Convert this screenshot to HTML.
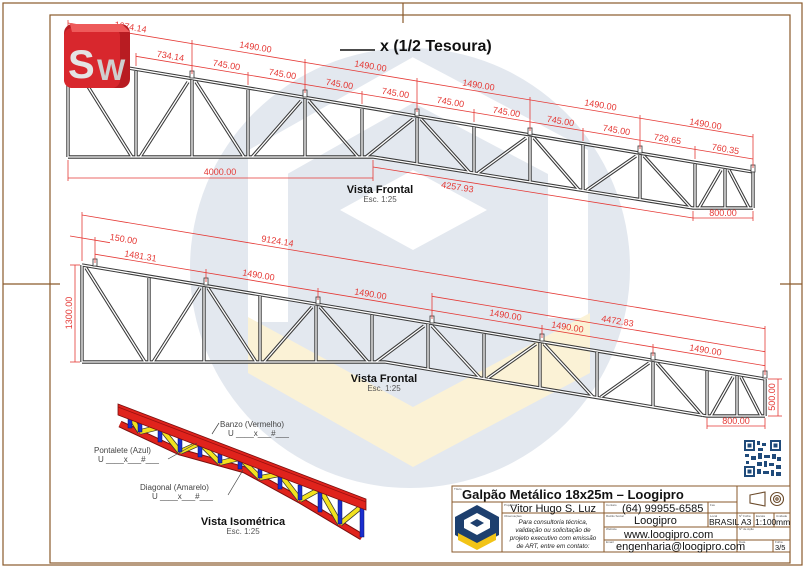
<!DOCTYPE html>
<html><head><meta charset="utf-8"><style>
html,body{margin:0;padding:0;background:#fff}
svg{display:block}
.d{font-family:"Liberation Sans",sans-serif;font-size:9px;fill:#e53935}
.r{stroke:#e53935;stroke-width:.8;fill:none}
.t{font-family:"Liberation Sans",sans-serif}
</style></head><body>
<svg width="806" height="568" viewBox="0 0 806 568" xmlns="http://www.w3.org/2000/svg">
<rect width="806" height="568" fill="#fff"/>
<!-- watermark -->
<circle cx="410" cy="268" r="220" fill="#e3e8ef"/>
<polyline points="268,322 268,162 413,80 568,162 568,318" fill="none" stroke="#fff" stroke-width="40"/>
<polygon points="340,210 413,170 487,210 413,250" fill="#fff"/>
<polygon points="248,317 413,407 590,313 590,373 413,467 248,373" fill="#fbf2d6"/>
<!-- frame -->
<rect x="3" y="3" width="799" height="562" fill="none" stroke="#8a5a2b" stroke-width="1.2"/>
<rect x="50" y="15" width="740" height="548" fill="none" stroke="#8a5a2b" stroke-width="1.2"/>
<line x1="403" y1="3" x2="403" y2="23" stroke="#8a5a2b" stroke-width="1.2"/>
<line x1="3" y1="284" x2="60" y2="284" stroke="#8a5a2b" stroke-width="1.2"/>
<line x1="780" y1="284" x2="802" y2="284" stroke="#8a5a2b" stroke-width="1.2"/>

<defs>
<g id="t1">
<line x1="68" y1="58" x2="753" y2="172"/>
<polyline points="68,157 373,157 693,208 753,208" fill="none"/>
<line x1="68" y1="58" x2="68" y2="157"/><line x1="136" y1="71" x2="136" y2="157"/>
<line x1="192" y1="80" x2="192" y2="157"/><line x1="248" y1="90" x2="248" y2="157"/>
<line x1="305" y1="99" x2="305" y2="157"/><line x1="362" y1="109" x2="362" y2="157"/>
<line x1="417" y1="118" x2="417" y2="164"/><line x1="474" y1="127" x2="474" y2="173"/>
<line x1="530" y1="137" x2="530" y2="182"/><line x1="583" y1="145" x2="583" y2="190"/>
<line x1="640" y1="155" x2="640" y2="199"/><line x1="695" y1="164" x2="695" y2="208"/>
<line x1="725" y1="169" x2="725" y2="208"/><line x1="753" y1="172" x2="753" y2="208"/>
<line x1="72" y1="61" x2="132" y2="157"/><line x1="140" y1="157" x2="188" y2="82"/>
<line x1="196" y1="82" x2="244" y2="157"/><line x1="252" y1="157" x2="301" y2="101"/>
<line x1="309" y1="101" x2="358" y2="157"/><line x1="366" y1="157" x2="413" y2="119"/>
<line x1="421" y1="119" x2="470" y2="173"/><line x1="478" y1="173" x2="526" y2="138"/>
<line x1="534" y1="138" x2="579" y2="190"/><line x1="587" y1="190" x2="636" y2="156"/>
<line x1="644" y1="156" x2="691" y2="208"/><line x1="699" y1="208" x2="721" y2="170"/>
<line x1="729" y1="170" x2="749" y2="208"/>
</g>
<g id="t2">
<line x1="82" y1="265" x2="765" y2="379"/>
<polyline points="82,362 385,362 707,416 765,416" fill="none"/>
<line x1="82" y1="265" x2="82" y2="362"/><line x1="149" y1="278" x2="149" y2="362"/>
<line x1="204" y1="287" x2="204" y2="362"/><line x1="260" y1="296" x2="260" y2="362"/>
<line x1="316" y1="306" x2="316" y2="362"/><line x1="372" y1="315" x2="372" y2="362"/>
<line x1="428" y1="324" x2="428" y2="369"/><line x1="484" y1="334" x2="484" y2="379"/>
<line x1="540" y1="343" x2="540" y2="388"/><line x1="597" y1="352" x2="597" y2="398"/>
<line x1="653" y1="362" x2="653" y2="407"/><line x1="707" y1="371" x2="707" y2="416"/>
<line x1="737" y1="376" x2="737" y2="416"/><line x1="765" y1="379" x2="765" y2="416"/>
<line x1="86" y1="268" x2="145" y2="362"/><line x1="153" y1="362" x2="200" y2="288"/>
<line x1="208" y1="288" x2="256" y2="362"/><line x1="264" y1="362" x2="312" y2="307"/>
<line x1="320" y1="307" x2="368" y2="362"/><line x1="376" y1="362" x2="424" y2="326"/>
<line x1="432" y1="326" x2="480" y2="378"/><line x1="488" y1="378" x2="536" y2="344"/>
<line x1="544" y1="344" x2="593" y2="397"/><line x1="601" y1="397" x2="649" y2="363"/>
<line x1="657" y1="363" x2="703" y2="416"/><line x1="711" y1="416" x2="733" y2="377"/>
<line x1="741" y1="377" x2="761" y2="416"/>
</g>
</defs>
<use href="#t1" stroke="#3a3a3a" stroke-width="3.4"/>
<use href="#t1" stroke="#fff" stroke-width="1.3"/>
<use href="#t2" stroke="#3a3a3a" stroke-width="3.4"/>
<use href="#t2" stroke="#fff" stroke-width="1.3"/>
<!-- clips -->
<g fill="#fff" stroke="#333" stroke-width=".8">
<rect x="190" y="71" width="4" height="7"/><rect x="303" y="90" width="4" height="7"/>
<rect x="415" y="109" width="4" height="7"/><rect x="528" y="128" width="4" height="7"/>
<rect x="638" y="146" width="4" height="7"/><rect x="751" y="165" width="4" height="7"/>
<rect x="93" y="259" width="4" height="7"/><rect x="204" y="278" width="4" height="7"/>
<rect x="316" y="297" width="4" height="7"/><rect x="430" y="316" width="4" height="7"/>
<rect x="540" y="334" width="4" height="7"/><rect x="651" y="353" width="4" height="7"/>
<rect x="763" y="371" width="4" height="7"/>
</g>

<!-- dims truss 1 -->
<g class="r">
<line x1="68" y1="23" x2="753" y2="137"/>
<line x1="136" y1="56.3" x2="753" y2="159"/>
<line x1="68" y1="54" x2="68" y2="20"/><line x1="192" y1="74" x2="192" y2="40"/>
<line x1="305" y1="93" x2="305" y2="59"/><line x1="417" y1="112" x2="417" y2="78"/>
<line x1="530" y1="131" x2="530" y2="97"/><line x1="640" y1="149" x2="640" y2="115"/>
<line x1="753" y1="168" x2="753" y2="134"/>
<line x1="136" y1="66" x2="136" y2="53"/><line x1="248" y1="85" x2="248" y2="72"/>
<line x1="362" y1="104" x2="362" y2="91"/><line x1="474" y1="122" x2="474" y2="109"/>
<line x1="583" y1="141" x2="583" y2="128"/><line x1="695" y1="159" x2="695" y2="146"/>
<line x1="68" y1="178" x2="373" y2="178"/><line x1="68" y1="160" x2="68" y2="181"/><line x1="373" y1="160" x2="373" y2="181"/>
<line x1="373" y1="167" x2="693" y2="218"/>
<line x1="693" y1="218" x2="753" y2="218"/><line x1="693" y1="211" x2="693" y2="221"/><line x1="753" y1="211" x2="753" y2="221"/>
</g>
<g class="d">
<text transform="translate(130,30) rotate(9.45)" text-anchor="middle">1674.14</text>
<text transform="translate(255,50) rotate(9.45)" text-anchor="middle">1490.00</text>
<text transform="translate(370,69) rotate(9.45)" text-anchor="middle">1490.00</text>
<text transform="translate(478,88) rotate(9.45)" text-anchor="middle">1490.00</text>
<text transform="translate(600,108) rotate(9.45)" text-anchor="middle">1490.00</text>
<text transform="translate(705,127) rotate(9.45)" text-anchor="middle">1490.00</text>
<text transform="translate(170,59) rotate(9.45)" text-anchor="middle">734.14</text>
<text transform="translate(226,68) rotate(9.45)" text-anchor="middle">745.00</text>
<text transform="translate(282,77) rotate(9.45)" text-anchor="middle">745.00</text>
<text transform="translate(339,87) rotate(9.45)" text-anchor="middle">745.00</text>
<text transform="translate(395,96) rotate(9.45)" text-anchor="middle">745.00</text>
<text transform="translate(450,105) rotate(9.45)" text-anchor="middle">745.00</text>
<text transform="translate(506,115) rotate(9.45)" text-anchor="middle">745.00</text>
<text transform="translate(560,124) rotate(9.45)" text-anchor="middle">745.00</text>
<text transform="translate(616,133) rotate(9.45)" text-anchor="middle">745.00</text>
<text transform="translate(667,142) rotate(9.45)" text-anchor="middle">729.65</text>
<text transform="translate(725,152) rotate(9.45)" text-anchor="middle">760.35</text>
<text x="220" y="175" text-anchor="middle">4000.00</text>
<text transform="translate(457,190) rotate(9)" text-anchor="middle">4257.93</text>
<text x="723" y="216" text-anchor="middle">800.00</text>
</g>

<!-- dims truss 2 -->
<g class="r">
<line x1="82" y1="215" x2="765" y2="328.7"/>
<line x1="70" y1="236" x2="110" y2="242.7"/>
<line x1="95" y1="254.2" x2="765" y2="365.7"/>
<line x1="432" y1="296.3" x2="765" y2="351.7"/>
<line x1="82" y1="261" x2="82" y2="212"/><line x1="765" y1="375" x2="765" y2="326"/>
<line x1="95" y1="263" x2="95" y2="237"/><line x1="432" y1="319" x2="432" y2="293"/>
<line x1="206" y1="282" x2="206" y2="269"/><line x1="318" y1="300" x2="318" y2="288"/>
<line x1="542" y1="338" x2="542" y2="325"/><line x1="653" y1="356" x2="653" y2="344"/>
<line x1="75" y1="265" x2="75" y2="362"/><line x1="70" y1="265" x2="80" y2="265"/><line x1="70" y1="362" x2="80" y2="362"/>
<line x1="778" y1="379" x2="778" y2="416"/><line x1="768" y1="379" x2="782" y2="379"/><line x1="768" y1="416" x2="782" y2="416"/>
<line x1="707" y1="426" x2="765" y2="426"/><line x1="707" y1="418" x2="707" y2="429"/><line x1="765" y1="418" x2="765" y2="429"/>
</g>
<g class="d">
<text transform="translate(277,244) rotate(9.45)" text-anchor="middle">9124.14</text>
<text transform="translate(123,242) rotate(9.45)" text-anchor="middle">150.00</text>
<text transform="translate(140,259) rotate(9.45)" text-anchor="middle">1481.31</text>
<text transform="translate(258,278) rotate(9.45)" text-anchor="middle">1490.00</text>
<text transform="translate(370,297) rotate(9.45)" text-anchor="middle">1490.00</text>
<text transform="translate(505,318) rotate(9.45)" text-anchor="middle">1490.00</text>
<text transform="translate(567,330) rotate(9.45)" text-anchor="middle">1490.00</text>
<text transform="translate(705,353) rotate(9.45)" text-anchor="middle">1490.00</text>
<text transform="translate(617,324) rotate(9.45)" text-anchor="middle">4472.83</text>
<text transform="translate(72,313) rotate(-90)" text-anchor="middle">1300.00</text>
<text transform="translate(775,397) rotate(-90)" text-anchor="middle">500.00</text>
<text x="736" y="424" text-anchor="middle">800.00</text>
</g>

<!-- titles -->
<g class="t">
<line x1="340" y1="50" x2="375" y2="50" stroke="#111" stroke-width="1.6"/>
<text x="380" y="51" font-size="16" font-weight="bold" fill="#111">x (1/2 Tesoura)</text>
<text x="380" y="193" font-size="11" font-weight="bold" fill="#111" text-anchor="middle">Vista Frontal</text>
<text x="380" y="202" font-size="8" fill="#555" text-anchor="middle">Esc. 1:25</text>
<text x="384" y="382" font-size="11" font-weight="bold" fill="#111" text-anchor="middle">Vista Frontal</text>
<text x="384" y="391" font-size="8" fill="#555" text-anchor="middle">Esc. 1:25</text>
<text x="243" y="525" font-size="11" font-weight="bold" fill="#111" text-anchor="middle">Vista Isométrica</text>
<text x="243" y="534" font-size="8" fill="#555" text-anchor="middle">Esc. 1:25</text>
</g>

<!-- SW logo -->
<g>
<rect x="64" y="24" width="66" height="64" rx="9" fill="#b81c22"/>
<rect x="64" y="28" width="56" height="60" rx="8" fill="#d8272d"/>
<path d="M70 24 L122 24 L130 32 L72 32 Z" fill="#ee5a5a"/>
<text x="68" y="78" font-family="Liberation Sans,sans-serif" font-size="40" font-weight="bold" fill="#e4e4e4">S</text>
<text x="97" y="80" font-family="Liberation Sans,sans-serif" font-size="30" font-weight="bold" fill="#cfcfcf">W</text>
</g>

<!-- isometric -->
<g>
<polyline points="120,424 180,452 245,470 300,500 362,537" fill="none" stroke="#7a0f0f" stroke-width="7"/>
<polyline points="120,424 180,452 245,470 300,500 362,537" fill="none" stroke="#e0231c" stroke-width="5"/>
<g stroke="#333" stroke-width="5.5">
<line x1="130" y1="416" x2="140" y2="432"/><line x1="140" y1="432" x2="160" y2="427"/>
<line x1="160" y1="427" x2="180" y2="452"/><line x1="180" y1="452" x2="200" y2="443"/>
<line x1="200" y1="443" x2="220" y2="463"/><line x1="220" y1="463" x2="240" y2="458"/>
<line x1="240" y1="458" x2="260" y2="478"/><line x1="260" y1="478" x2="280" y2="474"/>
<line x1="280" y1="474" x2="300" y2="500"/><line x1="300" y1="500" x2="320" y2="489"/>
<line x1="320" y1="489" x2="340" y2="524"/><line x1="340" y1="524" x2="362" y2="506"/>
</g>
<g stroke="#f2e21e" stroke-width="4">
<line x1="130" y1="416" x2="140" y2="432"/><line x1="140" y1="432" x2="160" y2="427"/>
<line x1="160" y1="427" x2="180" y2="452"/><line x1="180" y1="452" x2="200" y2="443"/>
<line x1="200" y1="443" x2="220" y2="463"/><line x1="220" y1="463" x2="240" y2="458"/>
<line x1="240" y1="458" x2="260" y2="478"/><line x1="260" y1="478" x2="280" y2="474"/>
<line x1="280" y1="474" x2="300" y2="500"/><line x1="300" y1="500" x2="320" y2="489"/>
<line x1="320" y1="489" x2="340" y2="524"/><line x1="340" y1="524" x2="362" y2="506"/>
</g>
<g fill="#1a2ed0" stroke="#0a1260" stroke-width=".5">
<rect x="128" y="419" width="4" height="9"/><rect x="138" y="423" width="4" height="9"/>
<rect x="158" y="431" width="4" height="11"/><rect x="178" y="438" width="4" height="14"/>
<rect x="198" y="446" width="4" height="11"/><rect x="218" y="454" width="4" height="9"/>
<rect x="238" y="461" width="4" height="8"/><rect x="258" y="469" width="4" height="9"/>
<rect x="278" y="477" width="4" height="12"/><rect x="298" y="485" width="4" height="15"/>
<rect x="318" y="492" width="4" height="20"/><rect x="338" y="500" width="4" height="24"/>
<rect x="360" y="508" width="4" height="29"/>
</g>
<polygon points="118,404 366,499 366,510 118,415" fill="#e0231c" stroke="#7a0f0f" stroke-width=".8"/>
<line x1="118" y1="407" x2="366" y2="502" stroke="#9a1010" stroke-width=".8"/>
</g>
<g class="t" font-size="8" fill="#444">
<text x="220" y="427">Banzo (Vermelho)</text>
<text x="228" y="436">U ____x___#___</text>
<text x="94" y="453">Pontalete  (Azul)</text>
<text x="98" y="462">U ____x___#___</text>
<text x="140" y="490">Diagonal  (Amarelo)</text>
<text x="152" y="499">U ____x___#___</text>
</g>
<g stroke="#444" stroke-width=".7">
<line x1="219" y1="423" x2="212" y2="434"/>
<line x1="168" y1="459" x2="197" y2="443"/>
<line x1="228" y1="495" x2="243" y2="470"/>
</g>

<!-- QR -->
<g fill="#1f4a7a">
<rect x="744" y="440" width="37" height="37" fill="#fff"/>
<rect x="744" y="440" width="11" height="11"/><rect x="746" y="442" width="7" height="7" fill="#fff"/><rect x="747.5" y="443.5" width="4" height="4"/>
<rect x="770" y="440" width="11" height="11"/><rect x="772" y="442" width="7" height="7" fill="#fff"/><rect x="773.5" y="443.5" width="4" height="4"/>
<rect x="744" y="466" width="11" height="11"/><rect x="746" y="468" width="7" height="7" fill="#fff"/><rect x="747.5" y="469.5" width="4" height="4"/>
<rect x="757" y="441" width="3" height="4"/><rect x="762" y="443" width="4" height="3"/><rect x="758" y="448" width="5" height="3"/>
<rect x="745" y="454" width="4" height="3"/><rect x="751" y="456" width="5" height="4"/><rect x="758" y="453" width="4" height="6"/>
<rect x="764" y="455" width="6" height="3"/><rect x="772" y="454" width="4" height="5"/><rect x="777" y="457" width="4" height="4"/>
<rect x="746" y="461" width="3" height="3"/><rect x="757" y="462" width="5" height="4"/><rect x="764" y="461" width="3" height="6"/>
<rect x="769" y="463" width="5" height="3"/><rect x="776" y="465" width="5" height="4"/><rect x="757" y="469" width="4" height="5"/>
<rect x="763" y="471" width="6" height="3"/><rect x="771" y="470" width="3" height="6"/><rect x="776" y="472" width="5" height="4"/>
</g>

<!-- title block -->
<g fill="none" stroke="#8a5a2b" stroke-width="1">
<rect x="452" y="486" width="338" height="66" fill="#fff"/>
<line x1="452" y1="502" x2="737" y2="502"/>
<line x1="502" y1="513" x2="737" y2="513"/>
<line x1="604" y1="527" x2="790" y2="527"/>
<line x1="604" y1="540" x2="790" y2="540"/>
<line x1="737" y1="513" x2="790" y2="513"/>
<line x1="502" y1="502" x2="502" y2="552"/>
<line x1="604" y1="502" x2="604" y2="552"/>
<line x1="708" y1="502" x2="708" y2="527"/>
<line x1="737" y1="486" x2="737" y2="552"/>
<line x1="754" y1="513" x2="754" y2="527"/>
<line x1="774" y1="513" x2="774" y2="527"/>
<line x1="773" y1="540" x2="773" y2="552"/>
</g>
<!-- logo -->
<g>
<polygon points="477,505 499,517 499,535 477,547 455,535 455,517" fill="#1d3f6e"/>
<polygon points="477,513 490,520 490,528 477,535 464,528 464,520" fill="#fff"/>
<polygon points="477,519 484,523 477,527 470,523" fill="#1d3f6e"/>
<polygon points="458,533 477,543 496,533 496,540 477,550 458,540" fill="#f2c417"/>
</g>
<!-- icons -->
<g fill="none" stroke="#6b4a2a" stroke-width="1.1">
<polygon points="750,495 765,492 765,506 750,503"/>
<circle cx="777" cy="499" r="6.5"/><circle cx="777" cy="499" r="3.5"/><circle cx="777" cy="499" r="1.2"/>
</g>
<g class="t" fill="#111">
<text x="462" y="499" font-size="13" font-weight="bold">Galpão Metálico 18x25m – Loogipro</text>
<text x="510" y="512" font-size="11">Vitor Hugo S. Luz</text>
<text x="622" y="512" font-size="11">(64) 99955-6585</text>
<text x="634" y="524" font-size="11">Loogipro</text>
<text x="624" y="538" font-size="11">www.loogipro.com</text>
<text x="616" y="550" font-size="11">engenharia@loogipro.com</text>
<text x="709" y="525" font-size="8.5">BRASIL</text>
<text x="741" y="525" font-size="8.5">A3</text>
<text x="755" y="525" font-size="8.5">1:100</text>
<text x="776" y="525" font-size="8.5">mm</text>
<text x="775" y="550" font-size="7.5">3/5</text>
<g font-size="6.3" font-style="italic" text-anchor="middle" fill="#222">
<text x="553" y="524">Para consultoria técnica,</text>
<text x="553" y="532">validação ou solicitação de</text>
<text x="553" y="540">projeto executivo com emissão</text>
<text x="553" y="548">de ART, entre em contato:</text>
</g>
<g font-size="3" fill="#555">
<text x="454" y="490">Título</text><text x="504" y="506">Projetista</text><text x="504" y="517">Observações</text>
<text x="606" y="506">Contato</text><text x="606" y="517">Razão Social</text><text x="606" y="530">Website</text>
<text x="606" y="543">Email</text><text x="710" y="506">Fax</text><text x="710" y="517">Local</text>
<text x="739" y="517">Nº Folha</text><text x="756" y="517">Escala</text><text x="776" y="517">Unidade</text>
<text x="739" y="530">Nº de Ação</text><text x="739" y="543">Data</text><text x="775" y="543">Folha</text>
</g>
</g>
</svg>
</body></html>
